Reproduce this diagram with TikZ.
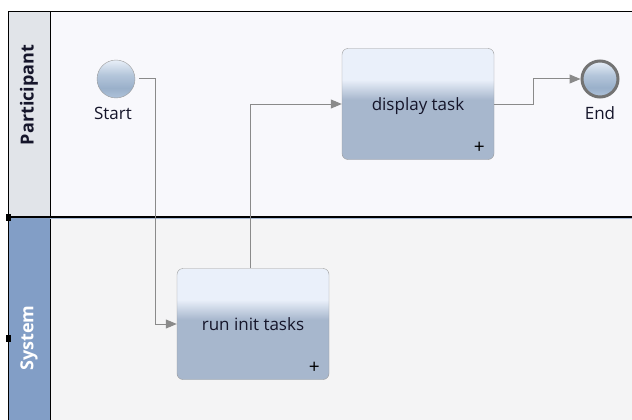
\documentclass[tikz,border=0pt]{standalone}
\usepackage{fontspec}
\setmainfont{Open Sans}
\usetikzlibrary{arrows.meta}

\definecolor{partback}{HTML}{F8F8FC}
\definecolor{partheader}{HTML}{E1E4E9}
\definecolor{sysback}{HTML}{F4F4F5}
\definecolor{sysheader}{HTML}{829EC6}
\definecolor{flowcol}{HTML}{8A8A8A}
\definecolor{taskline}{HTML}{9C9C9C}
\definecolor{tasklight}{HTML}{EAF0FA}
\definecolor{taskdark}{HTML}{A7B7CD}
\definecolor{evlight}{HTML}{E8EFF8}
\definecolor{evmid}{HTML}{B3C5DA}
\definecolor{evdark}{HTML}{9AB0CA}
\definecolor{evbottom}{HTML}{ABBFD7}
\definecolor{textcol}{HTML}{15152A}

% task body: pale top band, flat blue-grey below
\pgfdeclareverticalshading{taskfill}{100bp}{color(0bp)=(taskdark); color(52bp)=(taskdark);
  color(61bp)=(tasklight); color(100bp)=(tasklight)}
% events: glassy ball
\pgfdeclareverticalshading{eventfill}{100bp}{color(0bp)=(evbottom); color(27bp)=(evbottom);
  color(38bp)=(evdark); color(55bp)=(evmid); color(75bp)=(evlight); color(100bp)=(evlight)}
% task caption sits a little below the middle
\newcommand{\taskcaption}[1]{\raisebox{-6.5pt}[0pt][0pt]{#1}}

\begin{document}
\begin{tikzpicture}[x=1pt,y=-1pt,
  task/.style={draw=taskline, rounded corners=6pt, shading=taskfill,
    minimum width=152pt, minimum height=111pt, inner sep=0pt,
    font=\fontsize{17}{20}\selectfont, text=textcol},
  event/.style={circle, inner sep=0pt, minimum size=38pt, draw=taskline, shading=eventfill},
  endevent/.style={event, minimum size=36pt, draw=black!55, line width=3pt},
  evlabel/.style={font=\fontsize{17}{20}\selectfont, text=textcol},
  plus/.style={font=\fontsize{19}{20}\selectfont, inner sep=0pt},
  lanename/.style={rotate=90, font=\fontsize{18}{20}\selectfont\bfseries},
  flow/.style={draw=flowcol, line width=1pt, -{Triangle[length=11pt,width=9pt]}}]
\useasboundingbox (0,0) rectangle (632,420);
\fill[white] (0,0) rectangle (632,420);

% pool and lanes
\fill[partback] (50,12) rectangle (632,216);
\fill[partheader] (8,12) rectangle (50,216);
\fill[sysback] (50,216) rectangle (632,420);
\fill[sysheader] (8,216) rectangle (50,420);
\draw[line width=1pt] (632,12) -- (8,12) -- (8,420);
\draw[line width=1pt] (50,12) -- (50,420);
\draw[line width=1.3pt] (8,217) -- (632,217);
\draw[sysheader!70, line width=0.8pt] (50,218.5) -- (632,218.5);
\node[lanename, text=textcol] (partname) at (29,95) {Participant};
\node[lanename, text=white] (sysname) at (29,338) {System};

% selection handles
\fill (6,214) rectangle (11,221);
\fill (6,335) rectangle (11,342);

% events and tasks
\node[event] (start) at (116,79) {};
\node[evlabel] (startlbl) at (113,113) {Start};
\node[task] (display) at (418,104) {\taskcaption{display task}};
\node[plus] (displayplus) at ([shift={(-15,-12)}]display.south east) {+};
\node[task] (run) at (253,324) {\taskcaption{run init tasks}};
\node[plus] (runplus) at ([shift={(-15,-12)}]run.south east) {+};
\node[endevent] (end) at (600,79) {};
\node[evlabel] (endlbl) at (600,113) {End};

% sequence flows
\draw[flow] (start.east) ++(4,0) -- ++(16,0) |- (run.west);
\draw[flow] ([xshift=-3pt]run.north) |- (display.west);
\draw[flow] (display.east) -- ++(39,0) |- (end.west);
\end{tikzpicture}
\end{document}
